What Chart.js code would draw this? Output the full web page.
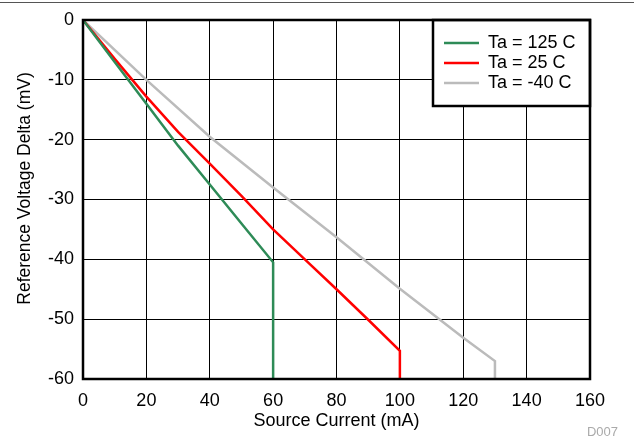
<!DOCTYPE html>
<html>
<head>
<meta charset="utf-8">
<script src="https://cdn.jsdelivr.net/npm/chart.js@4"></script>
<style>
  html, body { margin: 0; padding: 0; background: #fff; }
</style>
</head>
<body>
<canvas id="chart" width="634" height="438"></canvas>
<script>
// series: source current (mA) vs reference voltage delta (mV)
const current125 = [0, 10, 20, 30, 40, 50, 60, 60];
const delta125 = [0, -7, -14, -21, -27.5, -34, -40.5, -60];

const current25 = [0, 10, 20, 30, 40, 50, 60, 70, 80, 90, 100, 100];
const delta25 = [0, -6.5, -12.8, -18.7, -24, -29.4, -35, -40, -45, -50.1, -55.3, -60];

const currentM40 = [0, 20, 40, 60, 80, 100, 120, 130, 130];
const deltaM40 = [0, -10, -19.5, -28, -36.3, -44.9, -53.1, -57, -60];

const seriesLabels = ["Ta = 125 C", "Ta = 25 C", "Ta = -40 C"];
const xTicks = [0, 20, 40, 60, 80, 100, 120, 140, 160];
const yTicks = [0, -10, -20, -30, -40, -50, -60];
const xTitle = "Source Current (mA)";
const yTitle = "Reference Voltage Delta (mV)";

const FONT = "'Liberation Sans', Arial, sans-serif";

function toPoints(xs, ys) {
  return xs.map((x, i) => ({ x: x, y: ys[i] }));
}

// frame around plot, legend box, y title, top rule and the figure id
const framePlugin = {
  id: "frame",
  afterDraw(chart) {
    const ctx = chart.ctx;
    const a = chart.chartArea;
    ctx.save();
    // top rule across the page
    ctx.strokeStyle = "#555";
    ctx.lineWidth = 1;
    ctx.beginPath();
    ctx.moveTo(0, 2.5);
    ctx.lineTo(634, 2.5);
    ctx.stroke();

    // legend
    const lx = 433, ly = a.top, lw = a.right - 433, lh = 86;
    ctx.fillStyle = "#fff";
    ctx.fillRect(lx, ly, lw, lh);
    ctx.strokeStyle = "#000";
    ctx.lineWidth = 2.5;
    ctx.strokeRect(lx, ly, lw, lh);
    ctx.font = "18px " + FONT;
    ctx.textBaseline = "middle";
    chart.data.datasets.forEach((ds, i) => {
      const y = ly + 23 + i * 20;
      ctx.strokeStyle = ds.borderColor;
      ctx.lineWidth = 2.5;
      ctx.beginPath();
      ctx.moveTo(lx + 11, y);
      ctx.lineTo(lx + 46, y);
      ctx.stroke();
      ctx.fillStyle = "#000";
      ctx.fillText(ds.label, lx + 55, y);
    });

    // plot frame
    ctx.strokeStyle = "#000";
    ctx.lineWidth = 2.5;
    ctx.strokeRect(a.left, a.top, a.right - a.left, a.bottom - a.top);

    // y axis title (sits a little above the axis centre in the original)
    ctx.fillStyle = "#000";
    ctx.font = "17.5px " + FONT;
    ctx.textAlign = "center";
    ctx.textBaseline = "middle";
    ctx.translate(25, 188.5);
    ctx.rotate(-Math.PI / 2);
    ctx.fillText(yTitle, 0, 0);
    ctx.setTransform(1, 0, 0, 1, 0, 0);

    ctx.fillStyle = "#aaa";
    ctx.font = "13px " + FONT;
    ctx.textAlign = "right";
    ctx.textBaseline = "alphabetic";
    ctx.fillText("D007", 618, 436);
    ctx.restore();
  }
};

new Chart(document.getElementById("chart"), {
  type: "line",
  data: {
    datasets: [
      { label: seriesLabels[0], data: toPoints(current125, delta125), borderColor: "#2e8b57" },
      { label: seriesLabels[1], data: toPoints(current25, delta25), borderColor: "#ff0000" },
      { label: seriesLabels[2], data: toPoints(currentM40, deltaM40), borderColor: "#bbbbbb" },
    ].map((d) => Object.assign(d, { borderWidth: 2.5, pointRadius: 0, tension: 0, fill: false })),
  },
  options: {
    responsive: false,
    animation: false,
    devicePixelRatio: 1,
    layout: { padding: { top: 20, right: 44, left: 0, bottom: 0 } },
    plugins: { legend: { display: false }, tooltip: { enabled: false } },
    scales: {
      x: {
        type: "linear",
        min: 0,
        max: 160,
        afterBuildTicks: (s) => { s.ticks = xTicks.map((v) => ({ value: v })); },
        afterFit: (s) => { s.height = 59; },
        grid: { color: "#000", lineWidth: 1, drawTicks: false },
        border: { display: false },
        ticks: { color: "#000", font: { family: FONT, size: 18 }, padding: 11, maxRotation: 0, autoSkip: false },
        title: { display: true, text: xTitle, color: "#000", font: { family: FONT, size: 18 }, padding: { top: 0, bottom: 6 } },
      },
      y: {
        min: -60,
        max: 0,
        afterBuildTicks: (s) => { s.ticks = yTicks.map((v) => ({ value: v })); },
        afterFit: (s) => { s.width = 83; },
        grid: { color: "#000", lineWidth: 1, drawTicks: false },
        border: { display: false },
        ticks: { color: "#000", font: { family: FONT, size: 18 }, padding: 9, autoSkip: false },
        title: { display: false },
      },
    },
  },
  plugins: [framePlugin],
});
</script>
</body>
</html>
